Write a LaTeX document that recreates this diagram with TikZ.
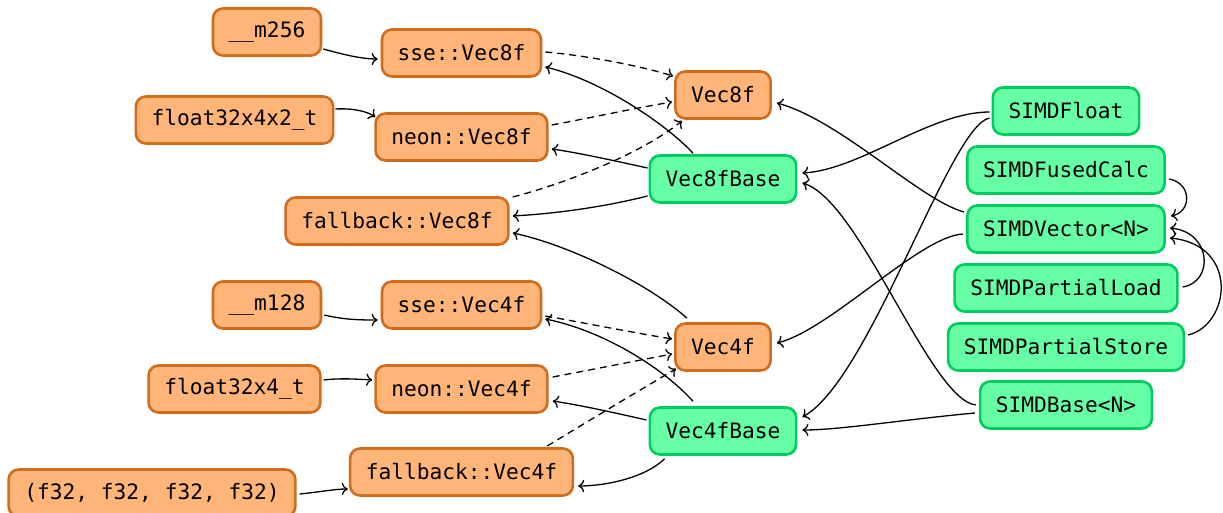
\documentclass[tikz,border=0pt]{standalone}
\usepackage{fontspec}
\setmonofont{DejaVu Sans Mono}
\usetikzlibrary{arrows.meta,calc}
\definecolor{implfill}{RGB}{255,181,120}
\definecolor{impldraw}{RGB}{208,108,30}
\definecolor{traitfill}{RGB}{102,255,166}
\definecolor{traitdraw}{RGB}{0,204,96}
\begin{document}
\begin{tikzpicture}[x=0.5pt,y=-0.5pt,
  box/.style={rounded corners=5pt, line width=1.3pt, minimum height=23.5pt,
    inner xsep=7.85pt, inner ysep=0pt,
    font=\ttfamily\fontsize{10.6pt}{12pt}\selectfont},
  impl/.style={box, fill=implfill, draw=impldraw},
  trait/.style={box, fill=traitfill, draw=traitdraw},
  link/.style={line width=0.65pt, -{To[length=3pt,width=6.2pt]}},
  dlink/.style={link, dash pattern=on 3.5pt off 2.5pt}]
\useasboundingbox (0,0) rectangle (1223,513);

% concrete vector types
\node[impl] (m256)   at (267,32)    {\_\_m256};
\node[impl] (sse8)   at (461.5,53)  {sse::Vec8f};
\node[impl] (f442)   at (234.5,120) {float32x4x2\_t};
\node[impl] (neon8)  at (461.5,137) {neon::Vec8f};
\node[impl] (vec8)   at (723,95)    {Vec8f};
\node[trait] (base8) at (723,179)   {Vec8fBase};
\node[impl] (fb8)    at (397,221)   {fallback::Vec8f};
\node[impl] (m128)   at (267,305)   {\_\_m128};
\node[impl] (sse4)   at (461.5,305) {sse::Vec4f};
\node[impl] (f44)    at (234.5,389) {float32x4\_t};
\node[impl] (neon4)  at (461.5,389) {neon::Vec4f};
\node[impl] (vec4)   at (723,347)   {Vec4f};
\node[trait] (base4) at (723,431)   {Vec4fBase};
\node[impl] (tup)    at (152,493)   {(f32, f32, f32, f32)};
\node[impl] (fb4)    at (461.5,472) {fallback::Vec4f};

% generic traits
\node[trait] (sfloat)  at (1066,111) {SIMDFloat};
\node[trait] (sfused)  at (1066,170) {SIMDFusedCalc};
\node[trait] (svec)    at (1066,229) {SIMDVector<N>};
\node[trait] (sload)   at (1066,288) {SIMDPartialLoad};
\node[trait] (sstore)  at (1066,347) {SIMDPartialStore};
\node[trait] (sbase)   at (1066,405) {SIMDBase<N>};

% 8-lane group
\draw[link] ($(m256.east)+(1,17)$) .. controls (345,55) and (362,59) .. ($(sse8.west)+(-3,6)$);
\draw[link] ($(f442.east)+(1,-11)$) .. controls (355,108) and (368,112) .. ($(neon8.west)+(1,-20)$);
\draw[dlink] ($(sse8.east)+(3,-1)$) .. controls (590,56) and (640,66) .. ($(vec8.west)+(-1,-19)$);
\draw[dlink] ($(neon8.east)+(3,-12)$) .. controls (590,118) and (635,108) .. ($(vec8.west)+(-2,7)$);
\draw[dlink] ($(fb8.east)+(3,-24)$) .. controls (560,185) and (640,155) .. ($(vec8.south west)+(8,1)$);
\draw[link] ($(base8.north)+(-30,-1)$) .. controls (665,123) and (600,80) .. ($(sse8.east)+(3,14)$);
\draw[link] ($(base8.west)+(-1,-11)$) .. controls (620,162) and (580,153) .. ($(neon8.east)+(3,12)$);
\draw[link] ($(base8.west)+(-1,17)$) .. controls (600,208) and (550,214) .. ($(fb8.east)+(3,-5)$);
\draw[link] ($(vec4.north)+(-36,-4)$) .. controls (650,285) and (570,245) .. ($(fb8.east)+(3,12)$);

% trait links
\draw[link] ($(svec.west)+(-2,-17)$) .. controls (920,200) and (840,120) .. ($(vec8.east)+(5,8)$);
\draw[link] ($(sfloat.west)+(-2,1)$) .. controls (930,112) and (860,170) .. ($(base8.east)+(5,-6)$);
\draw[link] ($(sfloat.west)+(-2,7)$) .. controls (950,125) and (870,380) .. ($(base4.east)+(5,-14)$);
\draw[link] ($(sbase.west)+(-3,0)$) .. controls (930,400) and (860,200) .. ($(base8.east)+(5,4)$);
\draw[link] ($(sbase.west)+(-4,8)$) .. controls (900,420) and (840,430) .. ($(base4.east)+(5,-1)$);
\draw[link] ($(svec.west)+(-3,5)$) .. controls (920,236) and (830,330) .. ($(vec4.east)+(5,-4)$);
\draw[link] ($(sfused.east)+(3,9)$) .. controls (1192,183) and (1192,212) .. ($(svec.east)+(5,-13)$);
\draw[link] ($(sload.east)+(4,-1)$) .. controls (1214,282) and (1212,232) .. ($(svec.east)+(4,-1)$);
\draw[link] ($(sstore.east)+(3,-12)$) .. controls (1230,325) and (1240,245) .. ($(svec.east)+(4,9)$);

% 4-lane group
\draw[link] ($(m128.east)+(2,10)$) .. controls (345,320) and (362,320) .. ($(sse4.west)+(-3,15)$);
\draw[link] ($(f44.east)+(2,-9)$) .. controls (340,378) and (355,379) .. ($(neon4.west)+(-2,-9)$);
\draw[link] ($(tup.east)+(3,1)$) .. controls (320,492) and (335,489) .. ($(fb4.west)+(-1,17)$);
\draw[dlink] ($(sse4.east)+(3,11)$) .. controls (590,324) and (630,332) .. ($(vec4.west)+(-2,-8)$);
\draw[dlink] ($(neon4.east)+(4,-12)$) .. controls (590,370) and (630,362) .. ($(vec4.west)+(-2,7)$);
\draw[dlink] ($(fb4.east)+(-27,-26)$) .. controls (590,420) and (640,390) .. ($(vec4.south west)+(2,-3)$);
\draw[link] ($(base4.north)+(-30,-5)$) .. controls (660,365) and (600,330) .. ($(sse4.east)+(3,14)$);
\draw[link] ($(base4.west)+(-2,-11)$) .. controls (620,414) and (580,405) .. ($(neon4.east)+(4,12)$);
\draw[link] ($(base4.south west)+(16,3)$) .. controls (645,478) and (605,486) .. ($(fb4.east)+(4,14)$);
\end{tikzpicture}
\end{document}
